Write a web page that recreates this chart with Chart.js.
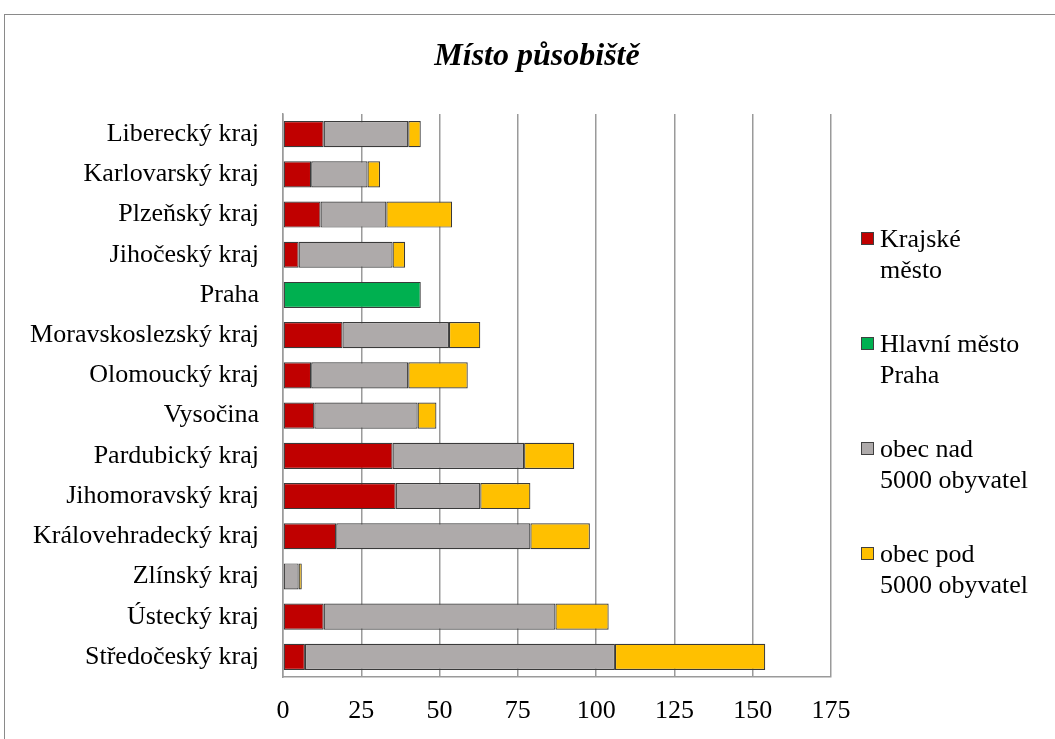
<!DOCTYPE html>
<html lang="cs">
<head>
<meta charset="utf-8">
<title>Místo působiště</title>
<script src="https://cdn.jsdelivr.net/npm/chart.js@4.4.1/dist/chart.umd.min.js"></script>
<style>
    html, body {
        margin: 0;
        padding: 0;
        background: #fff;
        overflow: hidden;
    }
    .chart-box {
        position: absolute;
        left: 0;
        top: 0;
        width: 1055px;
        height: 739px;
    }
    /* outer chart border, sits above the canvas */
    .frame {
        position: absolute;
        left: 4px;
        top: 14px;
        width: 1200px;
        height: 900px;
        border: 1px solid #8a8a8a;
        pointer-events: none;
    }
</style>
</head>
<body>
<div class="chart-box"><canvas id="placeChart" width="1055" height="739"></canvas></div>
<div class="frame"></div>
<script>
const chartTitle = 'Místo působiště';

const categories = [
    'Liberecký kraj', 'Karlovarský kraj', 'Plzeňský kraj', 'Jihočeský kraj', 'Praha',
    'Moravskoslezský kraj', 'Olomoucký kraj', 'Vysočina', 'Pardubický kraj',
    'Jihomoravský kraj', 'Královehradecký kraj', 'Zlínský kraj', 'Ústecký kraj',
    'Středočeský kraj'
];

const krajskeMesto = [13, 9, 12, 5, null, 19, 9, 10, 35, 36, 17, 0, 13, 7];
const hlavniMesto = [null, null, null, null, 44, null, null, null, null, null, null, null, null, null];
const obecNad = [27, 18, 21, 30, null, 34, 31, 33, 42, 27, 62, 5, 74, 99];
const obecPod = [4, 4, 21, 4, null, 10, 19, 6, 16, 16, 19, 1, 17, 48];

const xTicks = [0, 25, 50, 75, 100, 125, 150, 175];

const legendLines = [
    ['Krajské', 'město'],
    ['Hlavní město', 'Praha'],
    ['obec nad', '5000 obyvatel'],
    ['obec pod', '5000 obyvatel']
];

const serif = '"Liberation Serif", "Times New Roman", serif';

// title and the two-line legend on the right are drawn by hand
const titleAndLegend = {
    id: 'titleAndLegend',
    afterDraw(chart) {
        const ctx = chart.ctx;
        ctx.save();
        ctx.fillStyle = '#000';
        ctx.font = 'italic bold 32px ' + serif;
        ctx.textAlign = 'center';
        ctx.textBaseline = 'alphabetic';
        ctx.fillText(chartTitle, 537, 65);

        ctx.font = '26px ' + serif;
        ctx.textAlign = 'left';
        chart.data.datasets.forEach((ds, i) => {
            const base = 247 + i * 105;
            ctx.fillStyle = ds.backgroundColor;
            ctx.fillRect(861.5, base - 14.5, 12, 12);
            ctx.strokeStyle = '#404040';
            ctx.lineWidth = 1;
            ctx.strokeRect(861.5, base - 14.5, 12, 12);
            ctx.fillStyle = '#000';
            legendLines[i].forEach((line, j) => {
                ctx.fillText(line, 880, base + j * 31);
            });
        });
        ctx.restore();
    }
};

const whiteBackground = {
    id: 'whiteBackground',
    beforeDraw(chart) {
        const ctx = chart.ctx;
        ctx.save();
        ctx.fillStyle = '#fff';
        ctx.fillRect(0, 0, chart.width, chart.height);
        ctx.restore();
    }
};

function makeSet(label, data, color) {
    return {
        label: label,
        data: data,
        backgroundColor: color,
        borderColor: '#3a3a3a',
        borderWidth: 1.2,
        borderSkipped: false,
        barPercentage: 0.65,
        categoryPercentage: 1
    };
}

new Chart(document.getElementById('placeChart'), {
    type: 'bar',
    data: {
        labels: categories,
        datasets: [
            makeSet(legendLines[0].join(' '), krajskeMesto, '#C00000'),
            makeSet(legendLines[1].join(' '), hlavniMesto, '#00B050'),
            makeSet(legendLines[2].join(' '), obecNad, '#AEAAAA'),
            makeSet(legendLines[3].join(' '), obecPod, '#FFC000')
        ]
    },
    options: {
        indexAxis: 'y',
        responsive: false,
        animation: false,
        layout: {
            padding: { top: 114, right: 224, left: 0, bottom: 0 }
        },
        plugins: {
            legend: { display: false },
            title: { display: false },
            tooltip: { enabled: false }
        },
        scales: {
            x: {
                stacked: true,
                min: 0,
                max: 175,
                afterBuildTicks: (scale) => {
                    scale.ticks = xTicks.map(v => ({ value: v }));
                },
                afterFit: (scale) => {
                    scale.height = 62;
                },
                grid: {
                    color: '#9a9a9a',
                    lineWidth: 1.5,
                    drawTicks: false
                },
                border: {
                    color: '#9a9a9a',
                    width: 1.5
                },
                ticks: {
                    color: '#000',
                    padding: 19,
                    font: { family: serif, size: 26 }
                }
            },
            y: {
                stacked: true,
                afterFit: (scale) => {
                    scale.width = 283;
                },
                grid: {
                    display: false,
                    drawTicks: false
                },
                border: {
                    color: '#9a9a9a',
                    width: 1.5
                },
                ticks: {
                    color: '#000',
                    padding: 24,
                    autoSkip: false,
                    font: { family: serif, size: 26 }
                }
            }
        }
    },
    plugins: [whiteBackground, titleAndLegend]
});
</script>
</body>
</html>
